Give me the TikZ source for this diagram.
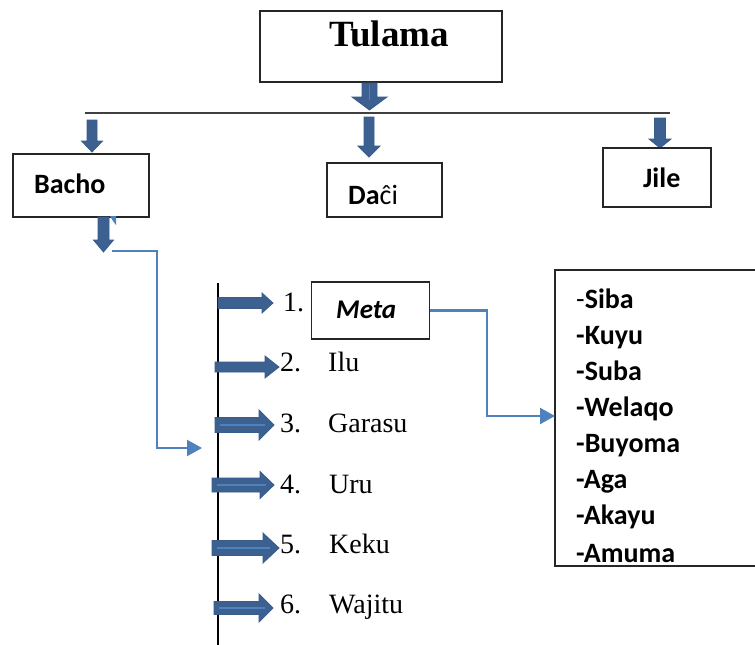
\documentclass[tikz,border=0pt]{standalone}
\usepackage{fontspec}
\setmainfont{Liberation Serif}
\newfontfamily\calfont{Carlito}
\usetikzlibrary{arrows.meta}
\definecolor{arrowdark}{HTML}{3C6191}
\definecolor{arrowedge}{HTML}{385D8A}
\definecolor{linkblue}{HTML}{4F81BD}
\newcommand\darrow[6]{%
  \filldraw[barrow] ({#1-#5},#2) -- ({#1+#5},#2) -- ({#1+#5},#3) -- ({#1+#6},#3) -- (#1,#4) -- ({#1-#6},#3) -- ({#1-#5},#3) -- cycle;}
\newcommand\rarrow[6]{%
  \filldraw[barrow] (#2,{#1-#5}) -- (#3,{#1-#5}) -- (#3,{#1-#6}) -- (#4,#1) -- (#3,{#1+#6}) -- (#3,{#1+#5}) -- (#2,{#1+#5}) -- cycle;}
\begin{document}
\begin{tikzpicture}[x=1pt,y=-1pt,
  barrow/.style={fill=arrowdark,draw=arrowedge,line width=0.8pt},
  stripe/.style={draw=linkblue,line width=1.6pt},
  boxx/.style={draw=black!85,line width=1.3pt,inner sep=0,outer sep=0,fill=white},
  link/.style={draw=linkblue,line width=2.2pt,-{Triangle[length=15pt,width=16pt]}},
  serif/.style={font=\fontsize{28}{34}\selectfont,inner sep=0,anchor=base west},
  sansb/.style={font=\calfont\bfseries\fontsize{28}{34}\selectfont,inner sep=0,anchor=base west}]
\useasboundingbox (0,0) rectangle (755,645);
\fill[white] (0,0) rectangle (755,645);

% Tulama
\node[boxx,line width=2pt,minimum width=242pt,minimum height=71pt] (tulama) at (381,46.5) {};
\node[inner sep=0,anchor=base,font=\bfseries\fontsize{37}{44}\selectfont] (tulamat) at (389,46) {Tulama};
\darrow{369.5}{83}{97}{110}{7.5}{17.5}
\draw[stripe] (369.5,85) -- (369.5,100);

% horizontal line
\coordinate (hl) at (85,113);
\coordinate (hr) at (670,113);
\draw[black!75,line width=1.4pt] (hl) -- (hr);

% down arrows
\darrow{369}{117}{146}{157}{5}{11}
\darrow{92}{120}{141}{152}{5}{10.5}
\darrow{660}{118}{139}{148}{5.5}{11}

% boxes
\node[boxx,minimum width=136pt,minimum height=63pt] (bacho) at (81,185.5) {};
\node[sansb] (bachot) at (34,193) {Bacho};
\node[boxx,minimum width=115pt,minimum height=54pt] (daci) at (384.5,190) {};
\node[sansb] (dacit) at (348,204) {Da\mdseries ĉi};
\node[boxx,minimum width=108pt,minimum height=59pt] (jile) at (657,177.5) {};
\node[sansb] (jilet) at (643,187) {Jile};

% under Bacho
\fill[linkblue] (110,216) -- (116,216) -- (116,225) -- (113,221) -- cycle;
\darrow{103.5}{217}{240}{252}{5.5}{10}

% vertical line
\coordinate (vt) at (218,283);
\coordinate (vb) at (218,645);
\draw[black,line width=1.8pt] (vt) -- (vb);

% Bacho connector
\coordinate (b1) at (112,251);
\coordinate (b2) at (202,448);
\draw[link] (b1) -| (157,448) -- (b2);

% right arrows
\rarrow{303}{218}{262}{273}{5.5}{10}
\rarrow{367}{215}{265}{279}{5}{11}
\rarrow{425}{215}{259}{274}{7.5}{15}
\draw[stripe] (220,425) -- (265,425);
\rarrow{485}{212}{260}{274}{7}{13.5}
\draw[stripe] (217,485) -- (266,485);
\rarrow{548}{212}{263}{279}{7.5}{15}
\draw[stripe] (217,548) -- (270,548);
\rarrow{608}{214}{259}{273}{6.5}{14}
\draw[stripe] (219,608) -- (265,608);

% numbered items
\node[serif] (n1) at (283,311) {1.};
\node[boxx,minimum width=118pt,minimum height=57pt] (meta) at (370.5,310.5) {};
\node[inner sep=0,anchor=base west,font=\calfont\bfseries\itshape\fontsize{27}{32}\selectfont] (metat) at (336,318) {Meta};
\node[serif] (n2) at (280,371) {2.};
\node[serif] (w2) at (328,371) {Ilu};
\node[serif] (n3) at (280,432) {3.};
\node[serif] (w3) at (328,432) {Garasu};
\node[serif] (n4) at (280,493) {4.};
\node[serif] (w4) at (329,493) {Uru};
\node[serif] (n5) at (280,553) {5.};
\node[serif] (w5) at (329,553) {Keku};
\node[serif] (n6) at (280,613) {6.};
\node[serif] (w6) at (329,613) {Wajitu};

% list box
\node[boxx,minimum width=205pt,minimum height=296pt] (list) at (657.5,418) {};
\begin{scope}
\clip (556,271) rectangle (755,563);
\node[sansb] (l1) at (576,308) {\mdseries-\bfseries Siba};
\node[sansb] (l2) at (576,344) {-Kuyu};
\node[sansb] (l3) at (576,380) {-Suba};
\node[sansb] (l4) at (576,416) {-Welaqo};
\node[sansb] (l5) at (576,452) {-Buyoma};
\node[sansb] (l6) at (576,488) {-Aga};
\node[sansb] (l7) at (576,524) {-Akayu};
\node[sansb] (l8) at (576,562) {-Amuma};
\end{scope}

% Meta connector
\coordinate (m2) at (555,416);
\draw[link] (meta.east) -- (487,310.5) |- (m2);
\end{tikzpicture}
\end{document}
